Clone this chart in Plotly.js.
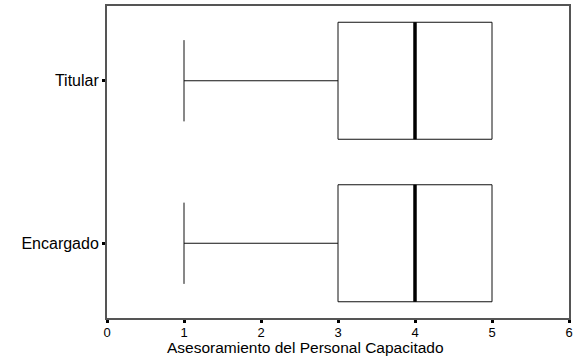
<!DOCTYPE html>
<html>
<head>
<meta charset="utf-8">
<script src="https://cdn.plot.ly/plotly-3.0.1.min.js"></script>
<style>
  html, body { margin: 0; padding: 0; background: #fff; }
  #chart { width: 579px; height: 361px; }
</style>
</head>
<body>
<div id="chart"></div>
<script>
// Box summaries
const groups = ['Encargado', 'Titular'];
const groupPos = [0, 1];
const minVals = [1, 1];
const q1Vals = [3, 3];
const medianVals = [4, 4];
const q3Vals = [5, 5];
const maxVals = [5, 5];

const xTicks = [0, 1, 2, 3, 4, 5, 6];
const xTitle = 'Asesoramiento del Personal Capacitado';

const boxWidth = 0.72;
const capWidth = 0.5;

const boxTrace = {
  type: 'box',
  orientation: 'h',
  y: groupPos,
  q1: q1Vals,
  median: medianVals,
  q3: q3Vals,
  lowerfence: minVals,
  upperfence: maxVals,
  width: boxWidth,
  whiskerwidth: 0,
  fillcolor: '#ffffff',
  line: { color: '#111111', width: 1 },
  hoverinfo: 'skip',
  showlegend: false
};

// thick median bars and whisker caps, built from the same arrays
const medX = [], medY = [], capX = [], capY = [];
groupPos.forEach((p, i) => {
  medX.push(medianVals[i], medianVals[i], null);
  medY.push(p - boxWidth / 2, p + boxWidth / 2, null);
  if (minVals[i] < q1Vals[i]) {
    capX.push(minVals[i], minVals[i], null);
    capY.push(p - capWidth / 2, p + capWidth / 2, null);
  }
  if (maxVals[i] > q3Vals[i]) {
    capX.push(maxVals[i], maxVals[i], null);
    capY.push(p - capWidth / 2, p + capWidth / 2, null);
  }
});

const medianTrace = {
  type: 'scatter',
  mode: 'lines',
  x: medX,
  y: medY,
  line: { color: '#000000', width: 3.5 },
  hoverinfo: 'skip',
  showlegend: false
};

const capTrace = {
  type: 'scatter',
  mode: 'lines',
  x: capX,
  y: capY,
  line: { color: '#111111', width: 1 },
  hoverinfo: 'skip',
  showlegend: false
};

const layout = {
  width: 579,
  height: 361,
  margin: { l: 107, r: 10, t: 6, b: 43 },
  paper_bgcolor: '#ffffff',
  plot_bgcolor: '#ffffff',
  font: { family: 'Liberation Sans, Arial, sans-serif', color: '#000000' },
  showlegend: false,
  xaxis: {
    range: [0, 6],
    tickvals: xTicks,
    ticktext: xTicks.map(String),
    ticks: 'outside',
    ticklen: 3,
    tickwidth: 3,
    tickcolor: '#000000',
    tickfont: { size: 13 },
    ticklabelstandoff: -2,
    showgrid: false,
    zeroline: false,
    showline: true,
    mirror: true,
    linecolor: '#555555',
    linewidth: 2
  },
  yaxis: {
    range: [-0.46, 1.46],
    tickvals: groupPos,
    ticktext: groups,
    ticks: 'outside',
    ticklen: 3,
    tickwidth: 3,
    tickcolor: '#000000',
    tickfont: { size: 16 },
    showgrid: false,
    zeroline: false,
    showline: true,
    mirror: true,
    linecolor: '#555555',
    linewidth: 2
  },
  annotations: [{
    text: xTitle,
    xref: 'paper',
    yref: 'paper',
    x: 0.4286,
    y: -0.094,
    xanchor: 'center',
    yanchor: 'middle',
    showarrow: false,
    font: { size: 15.5, color: '#000000' }
  }]
};

Plotly.newPlot('chart', [boxTrace, capTrace, medianTrace], layout, { displayModeBar: false, staticPlot: true });
</script>
</body>
</html>
